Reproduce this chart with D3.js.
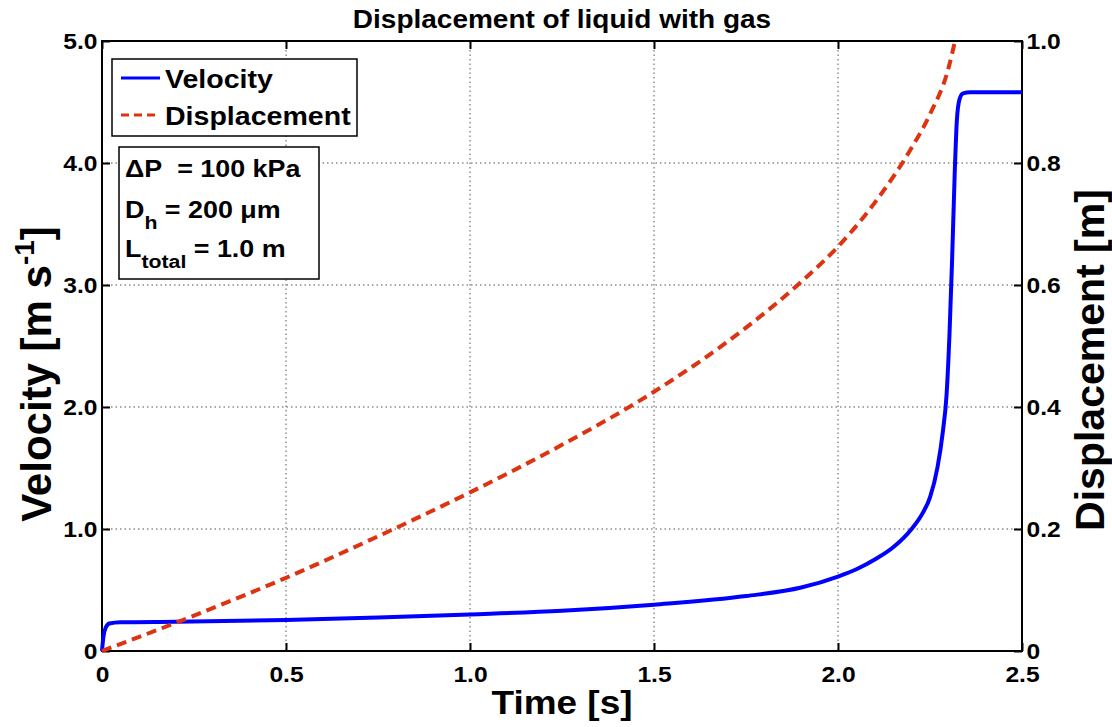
<!DOCTYPE html>
<html>
<head>
<meta charset="UTF-8">
<script src="https://d3js.org/d3.v7.min.js"></script>
<style>
  body { margin: 0; background: #fff; }
  text { font-family: "Liberation Sans", Arial, sans-serif; font-weight: bold; fill: #000; }
</style>
</head>
<body>
<div id="my_dataviz"></div>
<script>

// velocity curve (time [s], velocity [m/s])
var timeV    = [0, 0.004, 0.01, 0.02, 0.05, 0.2, 0.5, 0.75, 1.0, 1.25, 1.5, 1.75, 1.9, 2.0, 2.05, 2.1, 2.15, 2.2, 2.23, 2.25, 2.27, 2.285, 2.295, 2.303, 2.31, 2.317, 2.323, 2.33, 2.34, 2.36, 2.5];
var velocity = [0, 0.12, 0.19, 0.225, 0.235, 0.24, 0.255, 0.275, 0.30, 0.33, 0.38, 0.45, 0.52, 0.61, 0.67, 0.75, 0.85, 1.0, 1.13, 1.26, 1.5, 1.8, 2.1, 2.6, 3.2, 3.9, 4.35, 4.52, 4.57, 4.58, 4.58];

// displacement curve (time [s], displacement [m])
var timeD        = [0, 0.25, 0.5, 0.75, 1.0, 1.25, 1.5, 1.75, 1.9, 2.0, 2.1, 2.2, 2.25, 2.3, 2.318];
var displacement = [0, 0.058, 0.12, 0.188, 0.26, 0.338, 0.425, 0.53, 0.605, 0.663, 0.735, 0.825, 0.88, 0.955, 1.0];

var xTicks  = [0, 0.5, 1.0, 1.5, 2.0, 2.5];
var yTicks  = [0, 1, 2, 3, 4, 5];
var y2Ticks = [0, 0.2, 0.4, 0.6, 0.8, 1.0];

var legendLabels = ["Velocity", "Displacement"];

// set the dimensions and margins of the graph
var margin = {top: 41, right: 90, bottom: 76, left: 102},
  width = 1112 - margin.left - margin.right,
  height = 727 - margin.top - margin.bottom;

// horizontal text in the reference is a bit wider than Liberation Sans
var K = 1.12;

var svg = d3.select("#my_dataviz")
  .append("svg")
    .attr("width", 1112)
    .attr("height", 727)
  .append("g")
    .attr("transform", "translate(" + margin.left + "," + margin.top + ")");

var x = d3.scaleLinear().domain([0, 2.5]).range([0, width]);
var y = d3.scaleLinear().domain([0, 5]).range([height, 0]);
var y2 = d3.scaleLinear().domain([0, 1]).range([height, 0]);

var fmt = function(d) { return d === 0 ? "0" : d3.format(".1f")(d); };

// helper for stretched horizontal text
var htext = function(parent, px, py, size) {
  return parent.append("text")
    .attr("transform", "translate(" + px + "," + py + ") scale(" + K + ",1)")
    .style("font-size", size + "px");
};

// dotted grid
svg.append("g")
  .selectAll("line")
  .data(xTicks.slice(1, -1))
  .enter().append("line")
    .attr("x1", function(d) { return x(d); })
    .attr("x2", function(d) { return x(d); })
    .attr("y1", 0).attr("y2", height)
    .style("stroke", "#555").style("stroke-width", 1).style("stroke-dasharray", "1.5,3");
svg.append("g")
  .selectAll("line")
  .data(yTicks.slice(1, -1))
  .enter().append("line")
    .attr("y1", function(d) { return y(d); })
    .attr("y2", function(d) { return y(d); })
    .attr("x1", 0).attr("x2", width)
    .style("stroke", "#555").style("stroke-width", 1).style("stroke-dasharray", "1.5,3");

// axes, ticks point inward
var styleAxis = function(g) {
  g.select(".domain").remove();
  g.selectAll(".tick line").style("stroke", "#000").style("stroke-width", 2);
  g.selectAll(".tick text")
    .style("font-size", "22px")
    .style("font-family", null)
    .attr("transform", "scale(" + K + ",1)");
};

svg.append("g")
  .attr("transform", "translate(0," + height + ")")
  .call(d3.axisBottom(x).tickValues(xTicks).tickFormat(fmt).tickSize(-8).tickPadding(15))
  .call(styleAxis);
svg.append("g")
  .call(d3.axisTop(x).tickValues(xTicks).tickFormat("").tickSize(-8))
  .call(styleAxis);
svg.append("g")
  .call(d3.axisLeft(y).tickValues(yTicks).tickFormat(fmt).tickSize(-8).tickPadding(4))
  .call(styleAxis);
svg.append("g")
  .attr("transform", "translate(" + width + ",0)")
  .call(d3.axisRight(y2).tickValues(y2Ticks).tickFormat(fmt).tickSize(-8).tickPadding(4))
  .call(styleAxis);

// frame
svg.append("rect")
  .attr("width", width).attr("height", height)
  .style("fill", "none").style("stroke", "#000").style("stroke-width", 2);

// curves
var lineV = d3.line()
  .x(function(d, i) { return x(timeV[i]); })
  .y(function(d) { return y(d); })
  .curve(d3.curveMonotoneX);
var lineD = d3.line()
  .x(function(d, i) { return x(timeD[i]); })
  .y(function(d) { return y2(d); })
  .curve(d3.curveMonotoneX);

svg.append("path")
  .datum(velocity)
  .attr("d", lineV)
  .style("fill", "none").style("stroke", "#0000ff").style("stroke-width", 4).style("stroke-linejoin", "round");
svg.append("path")
  .datum(displacement)
  .attr("d", lineD)
  .style("fill", "none").style("stroke", "#de3310").style("stroke-width", 4).style("stroke-dasharray", "10,6");

// legend
var legend = svg.append("g").attr("transform", "translate(10,18)");
legend.append("rect")
  .attr("width", 245).attr("height", 77)
  .style("fill", "#fff").style("stroke", "#000").style("stroke-width", 1.5);
legend.selectAll("line")
  .data(legendLabels)
  .enter().append("line")
    .attr("x1", 9).attr("x2", 48)
    .attr("y1", function(d, i) { return 19 + i * 37; })
    .attr("y2", function(d, i) { return 19 + i * 37; })
    .style("stroke", function(d, i) { return i === 0 ? "#0000ff" : "#de3310"; })
    .style("stroke-width", 3)
    .style("stroke-dasharray", function(d, i) { return i === 0 ? null : "8,5"; });
legendLabels.forEach(function(d, i) {
  htext(legend, 53, 29 + i * 37, 25.5).text(d);
});

// parameter box
var info = svg.append("g").attr("transform", "translate(17,106)");
info.append("rect")
  .attr("width", 200).attr("height", 132)
  .style("fill", "#fff").style("stroke", "#000").style("stroke-width", 1.5);
htext(info, 6, 30, 24).text("\u0394P\u00a0 = 100 kPa");
var t2 = htext(info, 6, 71, 24);
t2.append("tspan").text("D");
t2.append("tspan").attr("dy", 11).style("font-size", "19px").text("h");
t2.append("tspan").attr("dy", -11).text("\u00a0= 200 \u03bcm");
var t3 = htext(info, 6, 110, 24);
t3.append("tspan").text("L");
t3.append("tspan").attr("dy", 11).style("font-size", "19px").text("total");
t3.append("tspan").attr("dy", -11).text("\u00a0= 1.0 m");

// title
htext(svg, width / 2, -13, 25)
  .attr("text-anchor", "middle")
  .text("Displacement of liquid with gas");

// axis labels
htext(svg, width / 2, height + 63, 33)
  .attr("text-anchor", "middle")
  .text("Time [s]");

var yl = svg.append("text")
  .attr("transform", "translate(-51," + (height / 2 + 28) + ") rotate(-90)")
  .attr("text-anchor", "middle")
  .style("font-size", "42px");
yl.append("tspan").text("Velocity [m s");
yl.append("tspan").attr("dy", -17).style("font-size", "28px").text("-1");
yl.append("tspan").attr("dy", 17).text("]");

svg.append("text")
  .attr("transform", "translate(" + (width + 82) + "," + (height / 2 + 14) + ") rotate(-90)")
  .attr("text-anchor", "middle")
  .style("font-size", "41px")
  .text("Displacement [m]");

</script>
</body>
</html>
